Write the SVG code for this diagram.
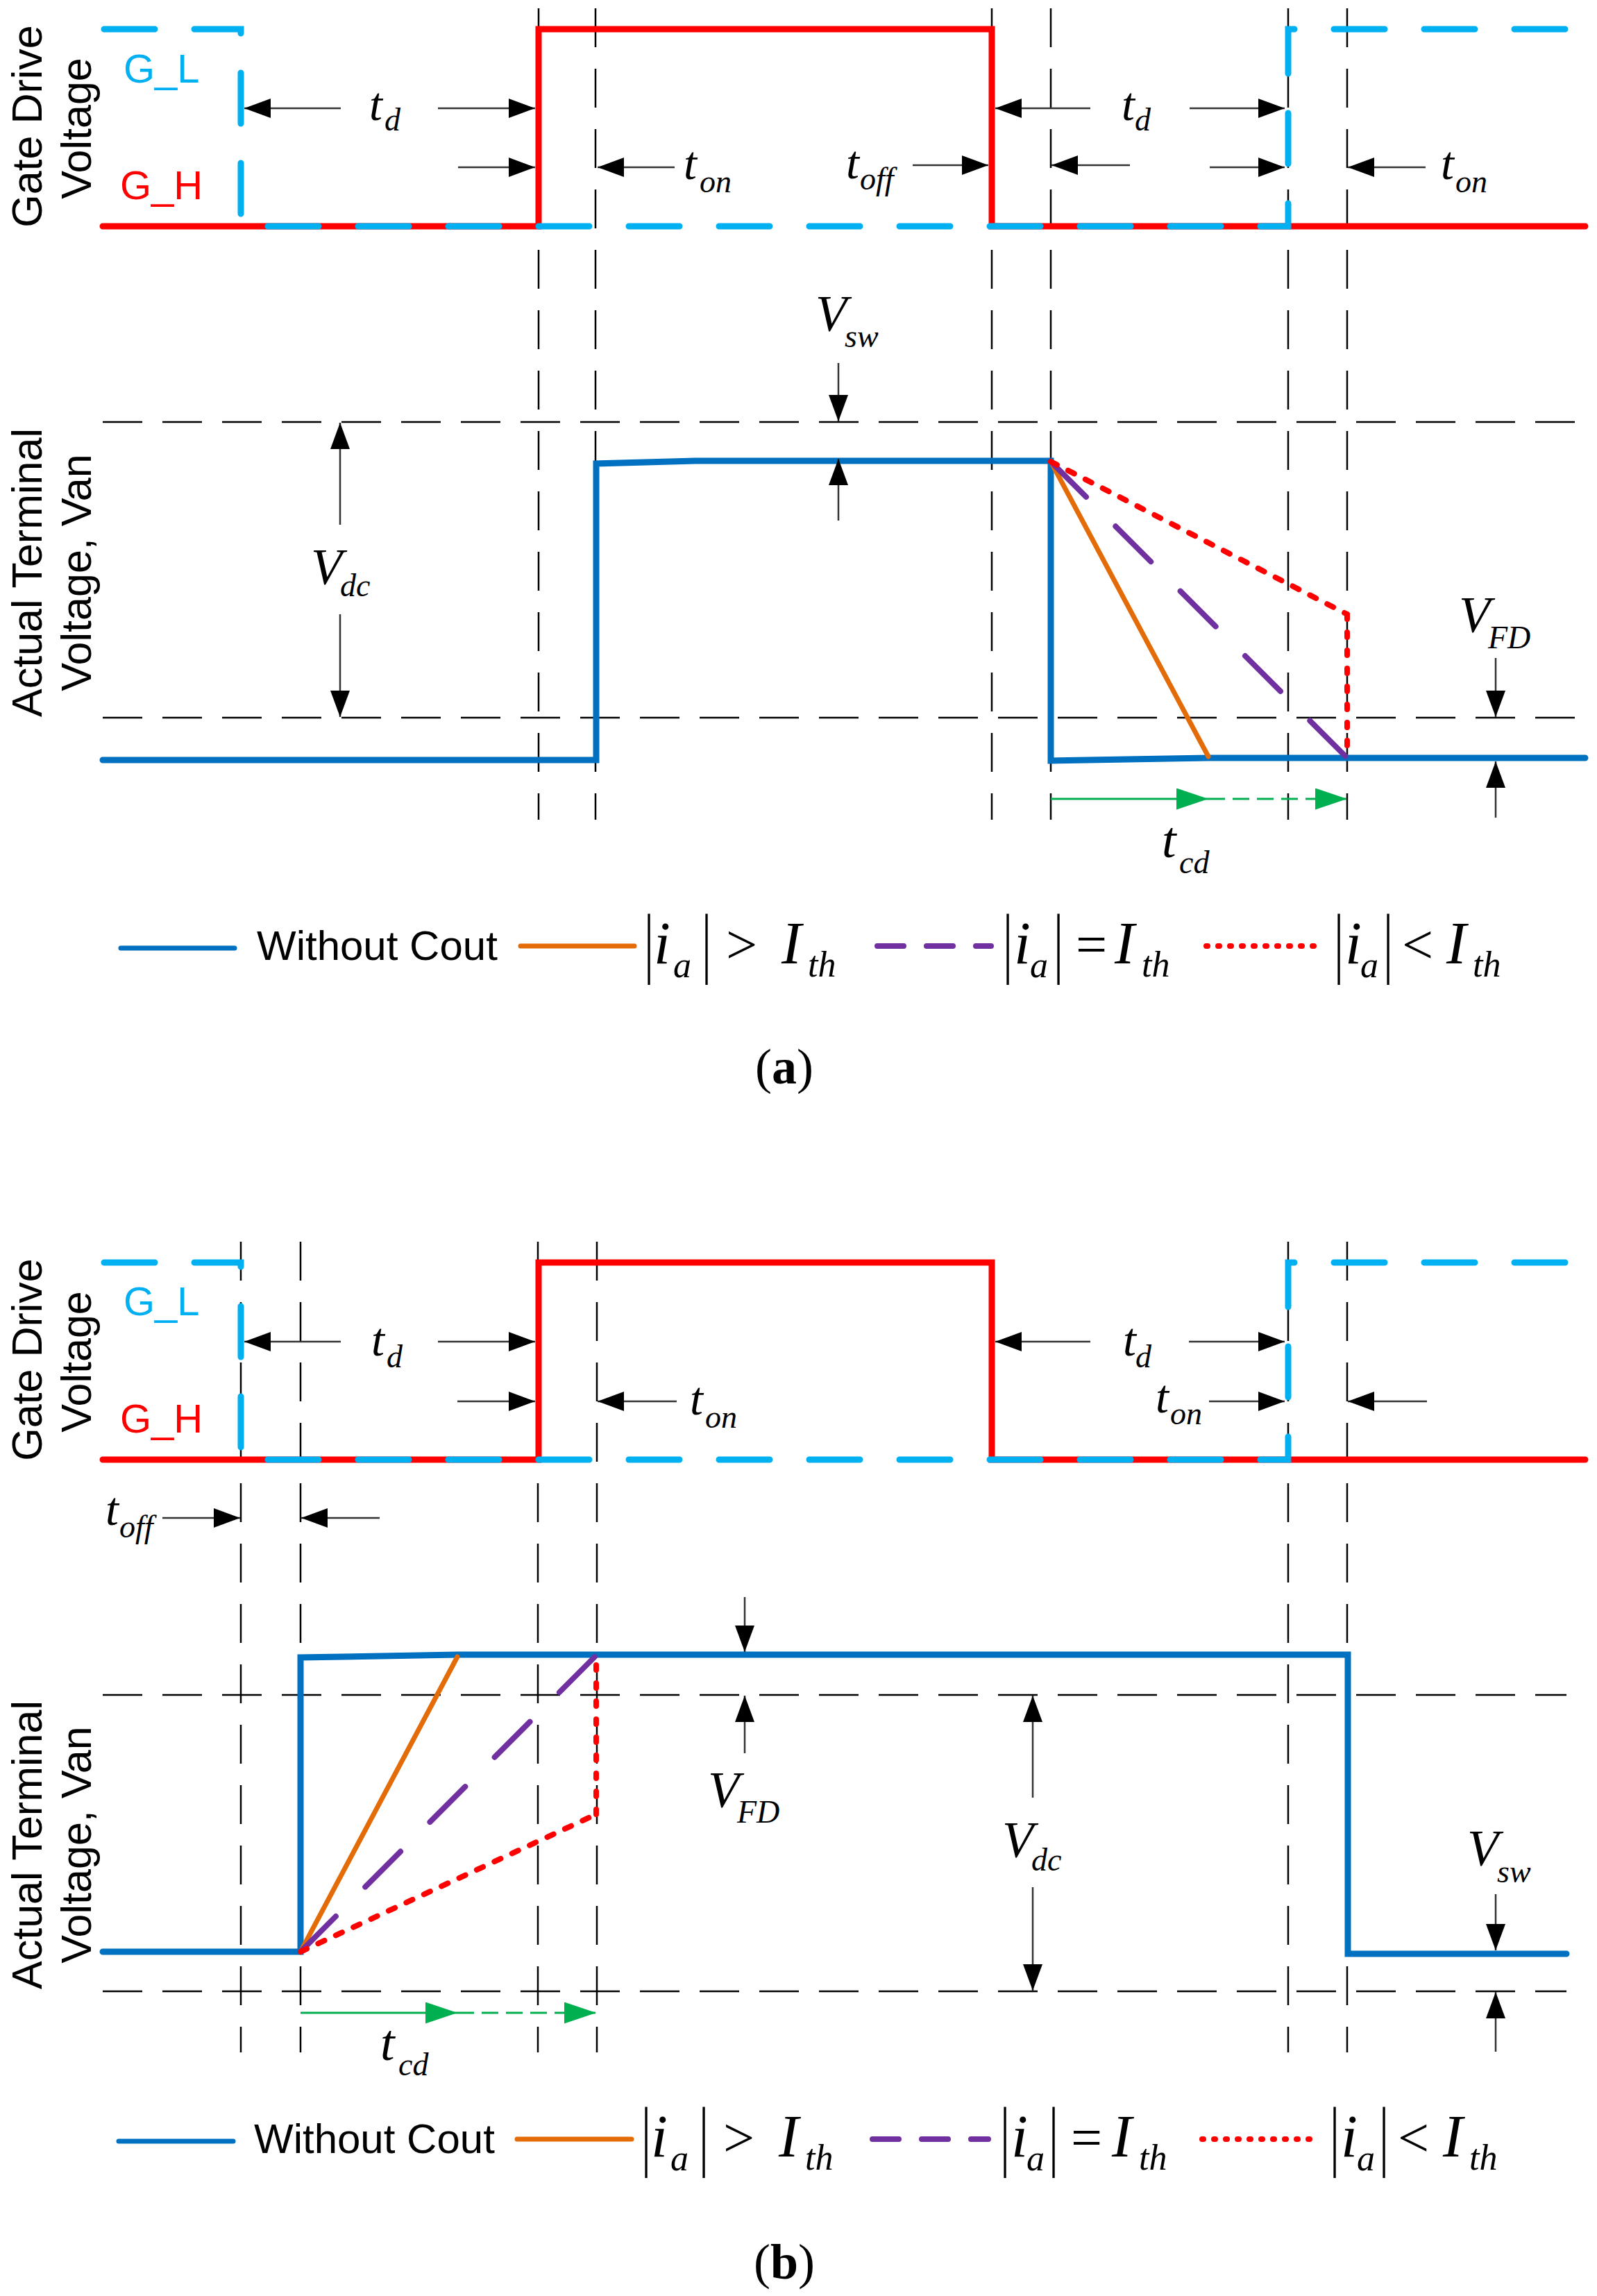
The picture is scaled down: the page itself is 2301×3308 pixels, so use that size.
<svg xmlns="http://www.w3.org/2000/svg" width="2301" height="3308" viewBox="0 0 2301 3308">
<style>
.vd{stroke:#000;stroke-width:2.5;stroke-dasharray:56 31;fill:none}
.hd{stroke:#000;stroke-width:2.5;stroke-dasharray:57 29;fill:none}
.gh{stroke:#FF0000;stroke-width:9;fill:none;stroke-linecap:round}
.gl{stroke:#00B0F0;stroke-width:9;fill:none;stroke-linecap:round;stroke-dasharray:73 57}
.van{stroke:#0070C0;stroke-width:9;fill:none;stroke-linecap:round}
.or{stroke:#E36C09;stroke-width:7;fill:none;stroke-linecap:round}
.pu{stroke:#7030A0;stroke-width:8;fill:none;stroke-linecap:round;stroke-dasharray:72 60}
.rd{stroke:#FF0000;stroke-width:8;fill:none;stroke-linecap:round;stroke-dasharray:10 18}
.rdv{stroke:#FF0000;stroke-width:8;fill:none;stroke-linecap:round;stroke-dasharray:7 19}
.ar{stroke:#333;stroke-width:2.5;fill:none;marker-end:url(#ah)}
.gs{stroke:#00B050;stroke-width:3;fill:none;marker-end:url(#gah)}
.gd{stroke:#00B050;stroke-width:3;fill:none;stroke-dasharray:24 11;marker-end:url(#gah)}
.ax{font-family:"Liberation Sans",Arial,sans-serif;font-size:61px;fill:#000;text-anchor:middle}
.gt{font-family:"Liberation Sans",Arial,sans-serif;font-size:58px}
.mt{font-family:"Liberation Serif","Times New Roman",serif;font-style:italic;font-size:68px;fill:#000}
.mv{font-family:"Liberation Serif","Times New Roman",serif;font-style:italic;font-size:74px;fill:#000}
.ms{font-family:"Liberation Serif","Times New Roman",serif;font-style:italic;font-size:46px;fill:#000}
.li{font-family:"Liberation Serif","Times New Roman",serif;font-style:italic;font-size:86px;fill:#000}
.ls{font-family:"Liberation Serif","Times New Roman",serif;font-style:italic;font-size:52px;fill:#000}
.lo{font-family:"Liberation Serif","Times New Roman",serif;font-size:80px;fill:#000}
.bar{font-family:"Liberation Serif","Times New Roman",serif;font-size:113px;fill:#000;text-anchor:middle}
.lt{font-family:"Liberation Sans",Arial,sans-serif;font-size:60px;fill:#000}
.cap{font-family:"Liberation Serif","Times New Roman",serif;font-size:72px;fill:#000;text-anchor:middle}
.leg{fill:none;stroke-width:7;stroke-linecap:round}
</style>
<defs>
<marker id="ah" markerWidth="38" markerHeight="28" refX="38" refY="14" orient="auto" markerUnits="userSpaceOnUse"><path d="M0,0 L38,14 L0,28 z" fill="#000"/></marker>
<marker id="gah" markerWidth="46" markerHeight="31" refX="46" refY="15.5" orient="auto" markerUnits="userSpaceOnUse"><path d="M0,0 L46,15.5 L0,31 z" fill="#00B050"/></marker>
</defs>
<rect width="2301" height="3308" fill="#fff"/>

<!-- ===================== (a) ===================== -->
<g id="a-grid">
<path class="vd" d="M776,12 V1181 M858,12 V1181 M1429,12 V1181 M1514,12 V1181 M1856,12 V1181 M1941,12 V1181"/>
<path class="hd" d="M148,608 H2285 M148,1034 H2285"/>
</g>
<g id="a-gate">
<path class="gh" d="M148,326 H776 V42 H1429 V326 H2284"/>
<path class="gl" d="M150,42 H347 V326 H1856 V42 H2284"/>
<text class="gt" x="178" y="119" fill="#00B0F0">G_L</text>
<text class="gt" x="173" y="287" fill="#FF0000">G_H</text>
<text class="ax" transform="translate(60,182) rotate(-90)">Gate Drive</text>
<text class="ax" transform="translate(131,185) rotate(-90)">Voltage</text>
</g>
<g id="a-van">
<path class="van" d="M148,1095 H859 V668 L1002,664 H1514 V1096 L1741,1092 H2284"/>
<path class="or" d="M1514,665 L1741,1090"/>
<path class="pu" d="M1514,665 L1939,1090"/>
<path class="rd" d="M1514,665 L1941,885"/>
<path class="rdv" d="M1941,885 V1090"/>
<text class="ax" transform="translate(60,825) rotate(-90)">Actual Terminal</text>
<text class="ax" transform="translate(131,825) rotate(-90)">Voltage, Van</text>
</g>
<g id="a-annotations">
<path class="ar" d="M491,156 H352"/>
<path class="ar" d="M631,156 H771"/>
<path class="ar" d="M660,241 H771"/>
<path class="ar" d="M972,241 H861"/>
<path class="ar" d="M1315,238 H1424"/>
<path class="ar" d="M1571,156 H1434"/>
<path class="ar" d="M1714,156 H1851"/>
<path class="ar" d="M1628,238 H1515"/>
<path class="ar" d="M1743,241 H1851"/>
<path class="ar" d="M2054,241 H1942"/>
<path class="ar" d="M490,756 V609"/>
<path class="ar" d="M490,885 V1033"/>
<path class="ar" d="M1208,523 V607"/>
<path class="ar" d="M1208,750 V661"/>
<path class="ar" d="M2155,948 V1033"/>
<path class="ar" d="M2155,1178 V1097"/>
<path class="gs" d="M1514,1151 H1741"/>
<path class="gd" d="M1741,1151 H1941"/>
<text class="mt" x="532" y="173">t</text><text class="ms" x="554" y="188">d</text>
<text class="mt" x="1616" y="173">t</text><text class="ms" x="1635" y="188">d</text>
<text class="mt" x="985" y="258">t</text><text class="ms" x="1008" y="277">on</text>
<text class="mt" x="1219" y="257">t</text><text class="ms" x="1239" y="273">off</text>
<text class="mt" x="2076" y="258">t</text><text class="ms" x="2097" y="277">on</text>
<text class="mt" x="1674" y="1235" style="font-size:74px">t</text><text class="ms" x="1699" y="1258">cd</text>
<text class="mv" x="448" y="842">V</text><text class="ms" x="490" y="859">dc</text>
<text class="mv" x="2102" y="911">V</text><text class="ms" x="2144" y="934">FD</text>
<text class="mv" x="1175" y="477">V</text><text class="ms" x="1217" y="500">sw</text>
</g>
<g id="a-legend">
<path class="leg" stroke="#0070C0" d="M174,1366 H338"/>
<text class="lt" x="370" y="1383">Without Cout</text>
<path class="leg" stroke="#E36C09" d="M750,1363 H914"/>
<text class="bar" transform="translate(935,1395) scale(0.6,1)">|</text>
<text class="li" x="942" y="1388">i</text><text class="ls" x="970" y="1408">a</text>
<text class="bar" transform="translate(1018,1395) scale(0.6,1)">|</text>
<text class="lo" x="1046" y="1388">&gt;</text>
<text class="li" x="1126" y="1388">I</text><text class="ls" x="1164" y="1407">th</text>
<path class="leg" stroke="#7030A0" style="stroke-width:8;stroke-dasharray:38 33" d="M1264,1363 H1428"/>
<text class="bar" transform="translate(1452,1395) scale(0.6,1)">|</text>
<text class="li" x="1461" y="1388">i</text><text class="ls" x="1484" y="1408">a</text>
<text class="bar" transform="translate(1525,1395) scale(0.6,1)">|</text>
<text class="lo" x="1550" y="1388">=</text>
<text class="li" x="1606" y="1388">I</text><text class="ls" x="1645" y="1407">th</text>
<path class="leg" stroke="#FF0000" style="stroke-width:8;stroke-dasharray:2 15" d="M1738,1363 H1905"/>
<text class="bar" transform="translate(1929,1395) scale(0.6,1)">|</text>
<text class="li" x="1938" y="1388">i</text><text class="ls" x="1960" y="1408">a</text>
<text class="bar" transform="translate(2000,1395) scale(0.6,1)">|</text>
<text class="lo" x="2020" y="1388">&lt;</text>
<text class="li" x="2084" y="1388">I</text><text class="ls" x="2122" y="1407">th</text>
<text class="cap" x="1130" y="1561">(<tspan font-weight="bold">a</tspan>)</text>
</g>

<!-- ===================== (b) ===================== -->
<g id="b-grid">
<path class="vd" d="M347,1789 V2957 M433,1789 V2957 M775,1789 V2957 M860,1789 V2957 M1856,1789 V2957 M1941,1789 V2957"/>
<path class="hd" d="M148,2442 H2257 M148,2869 H2257"/>
</g>
<g id="b-gate">
<path class="gh" d="M148,2103 H776 V1819 H1429 V2103 H2284"/>
<path class="gl" d="M150,1819 H347 V2103 H1856 V1819 H2284"/>
<text class="gt" x="178" y="1895" fill="#00B0F0">G_L</text>
<text class="gt" x="173" y="2064" fill="#FF0000">G_H</text>
<text class="ax" transform="translate(60,1959) rotate(-90)">Gate Drive</text>
<text class="ax" transform="translate(131,1962) rotate(-90)">Voltage</text>
</g>
<g id="b-van">
<path class="van" d="M148,2812 H433 V2388 L659,2384 H1942 V2815 H2257"/>
<path class="or" d="M433,2812 L659,2387"/>
<path class="pu" d="M433,2812 L857,2387"/>
<path class="rd" d="M433,2812 L859,2614"/>
<path class="rdv" d="M859,2614 V2388"/>
<text class="ax" transform="translate(60,2658) rotate(-90)">Actual Terminal</text>
<text class="ax" transform="translate(131,2658) rotate(-90)">Voltage, Van</text>
</g>
<g id="b-annotations">
<path class="ar" d="M491,1933 H352"/>
<path class="ar" d="M631,1933 H771"/>
<path class="ar" d="M659,2019 H771"/>
<path class="ar" d="M975,2019 H861"/>
<path class="ar" d="M1571,1933 H1434"/>
<path class="ar" d="M1713,1933 H1851"/>
<path class="ar" d="M1742,2019 H1851"/>
<path class="ar" d="M2056,2019 H1942"/>
<path class="ar" d="M234,2187 H346"/>
<path class="ar" d="M547,2187 H434"/>
<path class="ar" d="M1073,2301 V2380"/>
<path class="ar" d="M1073,2526 V2443"/>
<path class="ar" d="M1488,2590 V2443"/>
<path class="ar" d="M1488,2719 V2868"/>
<path class="ar" d="M2155,2729 V2810"/>
<path class="ar" d="M2155,2956 V2870"/>
<path class="gs" d="M433,2900 H659"/>
<path class="gd" d="M659,2900 H859"/>
<text class="mt" x="535" y="1953">t</text><text class="ms" x="557" y="1970">d</text>
<text class="mt" x="1618" y="1953">t</text><text class="ms" x="1636" y="1970">d</text>
<text class="mt" x="994" y="2038">t</text><text class="ms" x="1016" y="2057">on</text>
<text class="mt" x="1665" y="2035">t</text><text class="ms" x="1686" y="2052">on</text>
<text class="mt" x="152" y="2197">t</text><text class="ms" x="172" y="2215">off</text>
<text class="mt" x="548" y="2968" style="font-size:74px">t</text><text class="ms" x="574" y="2990">cd</text>
<text class="mv" x="1020" y="2604">V</text><text class="ms" x="1062" y="2626">FD</text>
<text class="mv" x="1444" y="2676">V</text><text class="ms" x="1486" y="2695">dc</text>
<text class="mv" x="2114" y="2688">V</text><text class="ms" x="2157" y="2712">sw</text>
</g>
<g id="b-legend">
<path class="leg" stroke="#0070C0" d="M171,3085 H336"/>
<text class="lt" x="366" y="3102">Without Cout</text>
<path class="leg" stroke="#E36C09" d="M745,3082 H910"/>
<text class="bar" transform="translate(931,3114) scale(0.6,1)">|</text>
<text class="li" x="938" y="3107">i</text><text class="ls" x="966" y="3127">a</text>
<text class="bar" transform="translate(1014,3114) scale(0.6,1)">|</text>
<text class="lo" x="1042" y="3107">&gt;</text>
<text class="li" x="1122" y="3107">I</text><text class="ls" x="1160" y="3126">th</text>
<path class="leg" stroke="#7030A0" style="stroke-width:8;stroke-dasharray:38 33" d="M1257,3082 H1424"/>
<text class="bar" transform="translate(1448,3114) scale(0.6,1)">|</text>
<text class="li" x="1457" y="3107">i</text><text class="ls" x="1479" y="3127">a</text>
<text class="bar" transform="translate(1518,3114) scale(0.6,1)">|</text>
<text class="lo" x="1543" y="3107">=</text>
<text class="li" x="1602" y="3107">I</text><text class="ls" x="1641" y="3126">th</text>
<path class="leg" stroke="#FF0000" style="stroke-width:8;stroke-dasharray:2 15" d="M1732,3082 H1898"/>
<text class="bar" transform="translate(1923,3114) scale(0.6,1)">|</text>
<text class="li" x="1932" y="3107">i</text><text class="ls" x="1955" y="3127">a</text>
<text class="bar" transform="translate(1994,3114) scale(0.6,1)">|</text>
<text class="lo" x="2014" y="3107">&lt;</text>
<text class="li" x="2079" y="3107">I</text><text class="ls" x="2117" y="3126">th</text>
<text class="cap" x="1130" y="3283">(<tspan font-weight="bold">b</tspan>)</text>
</g>
</svg>
